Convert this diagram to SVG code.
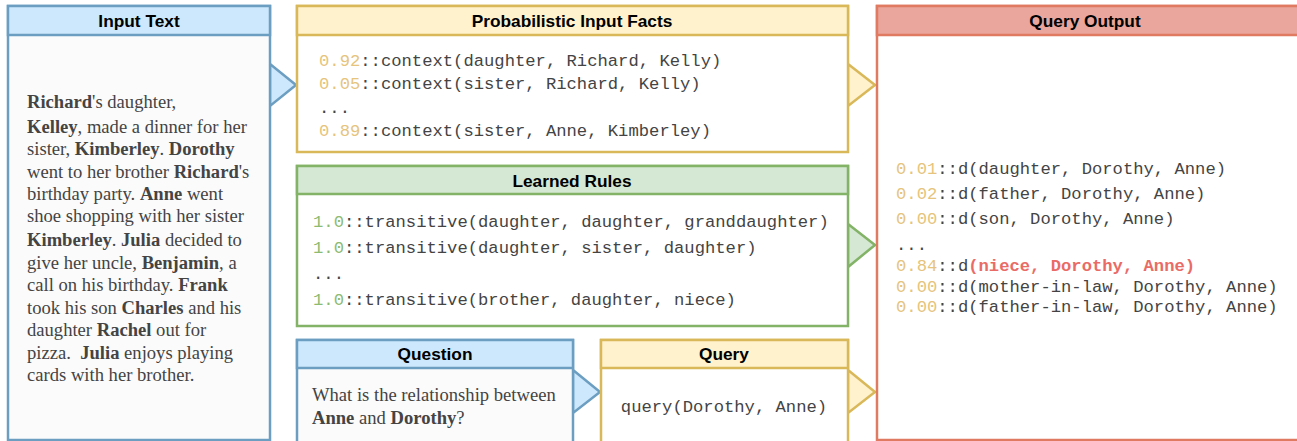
<svg xmlns="http://www.w3.org/2000/svg" width="1297" height="441" viewBox="0 0 1297 441">
  <style>
    .hdr { font-family: "Liberation Sans", Arial, sans-serif; font-weight: bold; font-size: 17.3px; fill: #000; text-anchor: middle; }
    .serif { font-family: "Liberation Serif", "Times New Roman", serif; font-size: 18.6px; fill: #444; }
    .serif .b { font-weight: bold; }
    .mono { font-family: "Liberation Mono", "Courier New", monospace; font-size: 17.2px; fill: #444; }
    .py { fill: #e6c47c; }
    .pg { fill: #8cbb72; }
    .hi { fill: #ea6b66; font-weight: bold; }
    .blue { stroke: #6c9ec2; stroke-width: 2.5; }
    .yellow { stroke: #d9b85a; stroke-width: 2.5; }
    .green { stroke: #82b366; stroke-width: 2.5; }
    .red { stroke: #e07b61; stroke-width: 2.5; }
  </style>
  <rect width="1297" height="441" fill="#ffffff"/>

  <!-- connectors: wedge arrows between panels -->
  <g id="connectors">
    <polygon class="blue" points="270,64 296,85 270,106" fill="#cde8fc"/>
    <polygon class="yellow" points="848,64 875,85 848,106" fill="#fff2cc"/>
    <polygon class="green" points="848,224 875,245 848,267" fill="#d5e8d4"/>
    <polygon class="blue" points="573,370 600,392 573,413" fill="#cde8fc"/>
    <polygon class="yellow" points="848,370 875,392 848,413" fill="#fff2cc"/>
  </g>

  <g id="input-text">
    <rect class="blue" x="8" y="6" width="262" height="434" fill="#fbfbfb"/>
    <rect class="blue" x="8" y="6" width="262" height="29" fill="#cde8fc"/>
    <text class="hdr" x="139" y="27">Input Text</text>
    <text class="serif">
      <tspan x="27" y="108"><tspan class="b">Richard</tspan>'s daughter,</tspan>
      <tspan x="27" y="133"><tspan class="b">Kelley</tspan>, made a dinner for her</tspan>
      <tspan x="27" y="155">sister, <tspan class="b">Kimberley</tspan>. <tspan class="b">Dorothy</tspan></tspan>
      <tspan x="27" y="178">went to her brother <tspan class="b">Richard</tspan>'s</tspan>
      <tspan x="27" y="200">birthday party. <tspan class="b">Anne</tspan> went</tspan>
      <tspan x="27" y="222">shoe shopping with her sister</tspan>
      <tspan x="27" y="246"><tspan class="b">Kimberley</tspan>. <tspan class="b">Julia</tspan> decided to</tspan>
      <tspan x="27" y="269">give her uncle, <tspan class="b">Benjamin</tspan>, a</tspan>
      <tspan x="27" y="291">call on his birthday. <tspan class="b">Frank</tspan></tspan>
      <tspan x="27" y="314">took his son <tspan class="b">Charles</tspan> and his</tspan>
      <tspan x="27" y="336">daughter <tspan class="b">Rachel</tspan> out for</tspan>
      <tspan x="27" y="359" xml:space="preserve">pizza.  <tspan class="b">Julia</tspan> enjoys playing</tspan>
      <tspan x="27" y="381">cards with her brother.</tspan>
    </text>
  </g>

  <g id="input-facts">
    <rect class="yellow" x="297" y="6" width="551" height="146" fill="#ffffff"/>
    <rect class="yellow" x="297" y="6" width="551" height="29" fill="#fff2cc"/>
    <text class="hdr" x="572" y="27">Probabilistic Input Facts</text>
    <text class="mono" x="319" y="66"><tspan class="py">0.92</tspan>::context(daughter, Richard, Kelly)</text>
    <text class="mono" x="319" y="89"><tspan class="py">0.05</tspan>::context(sister, Richard, Kelly)</text>
    <text class="mono" x="319" y="113">...</text>
    <text class="mono" x="319" y="136"><tspan class="py">0.89</tspan>::context(sister, Anne, Kimberley)</text>
  </g>

  <g id="learned-rules">
    <rect class="green" x="297" y="166" width="551" height="160" fill="#ffffff"/>
    <rect class="green" x="297" y="166" width="551" height="28" fill="#d5e8d4"/>
    <text class="hdr" x="572" y="187">Learned Rules</text>
    <text class="mono" x="313" y="227"><tspan class="pg">1.0</tspan>::transitive(daughter, daughter, granddaughter)</text>
    <text class="mono" x="313" y="253"><tspan class="pg">1.0</tspan>::transitive(daughter, sister, daughter)</text>
    <text class="mono" x="313" y="279">...</text>
    <text class="mono" x="313" y="305"><tspan class="pg">1.0</tspan>::transitive(brother, daughter, niece)</text>
  </g>

  <g id="question">
    <rect class="blue" x="297" y="340" width="276" height="104" fill="#fbfbfb"/>
    <rect class="blue" x="297" y="340" width="276" height="28" fill="#cde8fc"/>
    <text class="hdr" x="435" y="360">Question</text>
    <text class="serif">
      <tspan x="312" y="401">What is the relationship between</tspan>
      <tspan x="312" y="424"><tspan class="b">Anne</tspan> and <tspan class="b">Dorothy</tspan>?</tspan>
    </text>
  </g>

  <g id="query">
    <rect class="yellow" x="601" y="340" width="247" height="104" fill="#ffffff"/>
    <rect class="yellow" x="601" y="340" width="247" height="28" fill="#fff2cc"/>
    <text class="hdr" x="724" y="360">Query</text>
    <text class="mono" x="724" y="412" text-anchor="middle">query(Dorothy, Anne)</text>
  </g>

  <g id="query-output">
    <rect class="red" x="877" y="6" width="440" height="434" fill="#ffffff"/>
    <rect class="red" x="877" y="6" width="440" height="29" fill="#eaa69c"/>
    <text class="hdr" x="1085" y="27">Query Output</text>
    <text class="mono" x="896" y="174"><tspan class="py">0.01</tspan>::d(daughter, Dorothy, Anne)</text>
    <text class="mono" x="896" y="199"><tspan class="py">0.02</tspan>::d(father, Dorothy, Anne)</text>
    <text class="mono" x="896" y="224"><tspan class="py">0.00</tspan>::d(son, Dorothy, Anne)</text>
    <text class="mono" x="896" y="250">...</text>
    <text class="mono" x="896" y="271"><tspan class="py">0.84</tspan>::d<tspan class="hi">(niece, Dorothy, Anne)</tspan></text>
    <text class="mono" x="896" y="292"><tspan class="py">0.00</tspan>::d(mother-in-law, Dorothy, Anne)</text>
    <text class="mono" x="896" y="312"><tspan class="py">0.00</tspan>::d(father-in-law, Dorothy, Anne)</text>
  </g>
</svg>
